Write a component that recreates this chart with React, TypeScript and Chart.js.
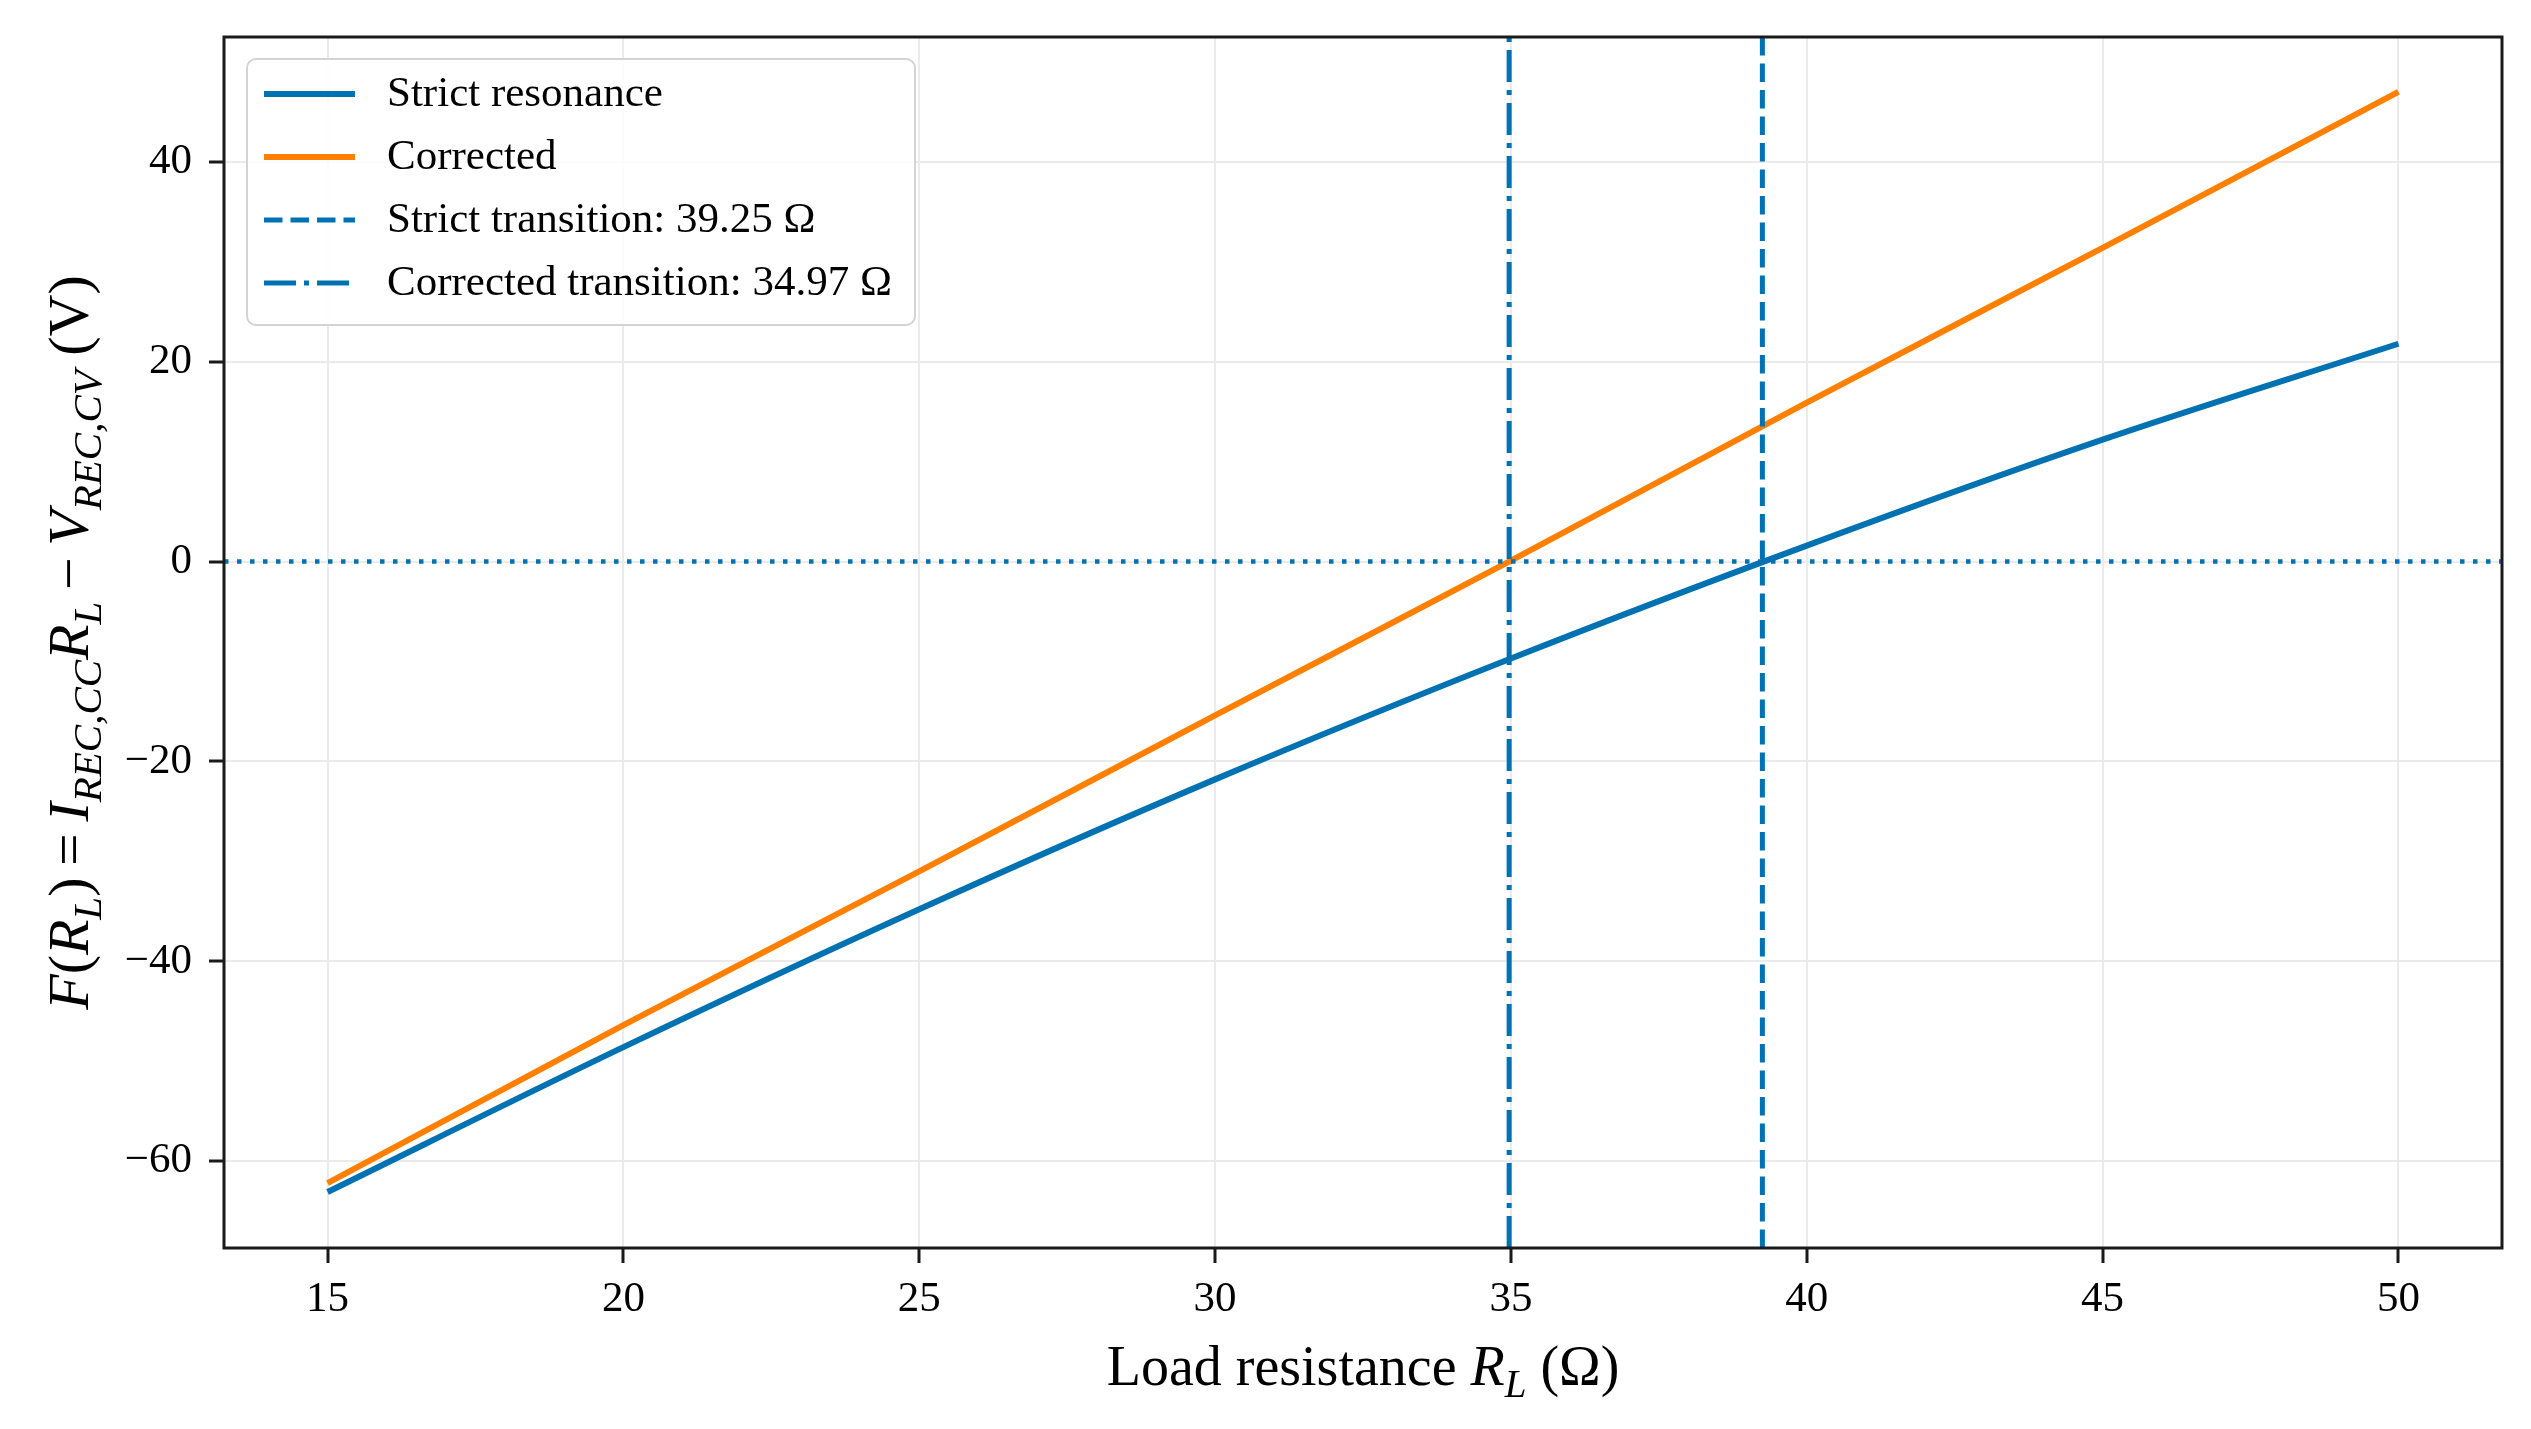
import React, { useEffect, useRef } from 'react'
import { Chart, registerables } from 'chart.js'

Chart.register(...registerables)

// values
const resistance = [15, 20, 25, 30, 35, 40, 45, 50]
const strictResonance = [-63.1, -48.6, -34.8, -21.8, -9.7, 1.6, 12.2, 21.8]
const correctedValues = [-62.2, -46.4, -31.0, -15.4, 0.1, 15.9, 31.4, 47.0]
const strictTransition = 39.25
const correctedTransition = 34.97
const xTicks = [15, 20, 25, 30, 35, 40, 45, 50]
const yTicks = [-60, -40, -20, 0, 20, 40]

const X_MIN = 13.25
const X_MAX = 51.75
const Y_MIN = -68.7
const Y_MAX = 52.5

const BLUE = '#0072B2'
const ORANGE = '#FF8000'
const SERIF = '"Liberation Serif", "Times New Roman", serif'

type Seg = { t: string; it?: boolean; sub?: boolean }

function drawRich(ctx: CanvasRenderingContext2D, segs: Seg[], size: number, cx: number, baseline: number) {
  const font = (s: Seg) => `${s.it ? 'italic ' : ''}${s.sub ? Math.round(size * 0.7) : size}px ${SERIF}`
  let total = 0
  const widths = segs.map((s) => {
    ctx.font = font(s)
    const w = ctx.measureText(s.t).width
    total += w
    return w
  })
  let x = cx - total / 2
  ctx.textAlign = 'left'
  ctx.textBaseline = 'alphabetic'
  ctx.fillStyle = '#000'
  segs.forEach((s, i) => {
    ctx.font = font(s)
    ctx.fillText(s.t, x, baseline + (s.sub ? size * 0.22 : 0))
    x += widths[i]
  })
}

const yTitle: Seg[] = [
  { t: 'F', it: true },
  { t: '(' },
  { t: 'R', it: true },
  { t: 'L', it: true, sub: true },
  { t: ')\u2009=\u2009' },
  { t: 'I', it: true },
  { t: 'REC,CC', it: true, sub: true },
  { t: 'R', it: true },
  { t: 'L', it: true, sub: true },
  { t: '\u2009\u2212\u2009' },
  { t: 'V', it: true },
  { t: 'REC,CV', it: true, sub: true },
  { t: ' (V)' },
]

const xTitle: Seg[] = [
  { t: 'Load resistance ' },
  { t: 'R', it: true },
  { t: 'L', it: true, sub: true },
  { t: ' (\u03A9)' },
]

const decorations = {
  id: 'decorations',
  afterDatasetsDraw(chart: any) {
    const { ctx, chartArea } = chart
    ctx.save()
    ctx.strokeStyle = '#1a1a1a'
    ctx.lineWidth = 3
    ctx.strokeRect(chartArea.left, chartArea.top, chartArea.right - chartArea.left, chartArea.bottom - chartArea.top)
    ctx.restore()
  },
  afterDraw(chart: any) {
    const { ctx, chartArea } = chart
    ctx.save()

    // legend box
    const bx = chartArea.left + 23
    const by = chartArea.top + 22
    const bw = 668
    const bh = 266
    ctx.beginPath()
    ctx.roundRect(bx, by, bw, bh, 9)
    ctx.fillStyle = 'rgba(255,255,255,0.85)'
    ctx.fill()
    ctx.strokeStyle = '#d4d4d4'
    ctx.lineWidth = 2
    ctx.stroke()

    const entries = chart.data.datasets.filter((d: any) => d.label)
    entries.forEach((d: any, i: number) => {
      const y = by + 35 + i * 63
      ctx.beginPath()
      ctx.setLineDash(d.borderDash || [])
      ctx.lineCap = 'butt'
      ctx.strokeStyle = d.borderColor
      ctx.lineWidth = d.borderWidth
      ctx.moveTo(bx + 17, y)
      ctx.lineTo(bx + 108, y)
      ctx.stroke()
      ctx.setLineDash([])
      ctx.fillStyle = '#000'
      ctx.font = `43px ${SERIF}`
      ctx.textAlign = 'left'
      ctx.textBaseline = 'middle'
      ctx.fillText(d.label, bx + 140, y + 1)
    })

    // axis titles
    drawRich(ctx, xTitle, 56, (chartArea.left + chartArea.right) / 2, 1385)
    ctx.translate(88, (chartArea.top + chartArea.bottom) / 2)
    ctx.rotate(-Math.PI / 2)
    drawRich(ctx, yTitle, 58, 0, 0)
    ctx.restore()
  },
}

function LoadChart() {
  const ref = useRef<HTMLCanvasElement>(null)

  useEffect(() => {
    const canvas = ref.current
    if (!canvas) {
      return
    }

    const chart = new Chart(canvas, {
      type: 'line',
      data: {
        datasets: [
          {
            label: 'Strict resonance',
            data: resistance.map((x, i) => ({ x, y: strictResonance[i] })),
            borderColor: BLUE,
            borderWidth: 6,
            pointRadius: 0,
            cubicInterpolationMode: 'monotone',
            order: 2,
          },
          {
            label: 'Corrected',
            data: resistance.map((x, i) => ({ x, y: correctedValues[i] })),
            borderColor: ORANGE,
            borderWidth: 6,
            pointRadius: 0,
            cubicInterpolationMode: 'monotone',
            order: 2,
          },
          {
            label: `Strict transition: ${strictTransition.toFixed(2)} \u03A9`,
            data: [
              { x: strictTransition, y: Y_MIN },
              { x: strictTransition, y: Y_MAX },
            ],
            borderColor: BLUE,
            borderWidth: 5,
            borderDash: [18.5, 8],
            pointRadius: 0,
            order: 1,
          },
          {
            label: `Corrected transition: ${correctedTransition.toFixed(2)} \u03A9`,
            data: [
              { x: correctedTransition, y: Y_MIN },
              { x: correctedTransition, y: Y_MAX },
            ],
            borderColor: BLUE,
            borderWidth: 5,
            borderDash: [32, 8, 5, 8],
            pointRadius: 0,
            order: 1,
          },
          {
            label: '',
            data: [
              { x: X_MIN, y: 0 },
              { x: X_MAX, y: 0 },
            ],
            borderColor: BLUE,
            borderWidth: 4.5,
            borderDash: [4.5, 8.5],
            pointRadius: 0,
            order: 1,
          },
        ],
      },
      options: {
        responsive: false,
        animation: false,
        devicePixelRatio: 1,
        layout: { padding: { top: 37, right: 29, left: 0, bottom: 0 } },
        plugins: {
          legend: { display: false },
          tooltip: { enabled: false },
        },
        scales: {
          x: {
            type: 'linear',
            min: X_MIN,
            max: X_MAX,
            afterFit: (scale: any) => {
              scale.height = 181
              scale.paddingLeft = 0
              scale.paddingRight = 0
            },
            afterBuildTicks: (scale: any) => {
              scale.ticks = xTicks.map((v) => ({ value: v }))
            },
            border: { display: false },
            grid: {
              color: '#ebebeb',
              lineWidth: 2,
              tickColor: '#1a1a1a',
              tickWidth: 3,
              tickLength: 15,
            },
            ticks: {
              color: '#000',
              padding: 11,
              maxRotation: 0,
              font: { family: SERIF, size: 43 },
              callback: (v: any) => String(v),
            },
          },
          y: {
            type: 'linear',
            min: Y_MIN,
            max: Y_MAX,
            afterFit: (scale: any) => {
              scale.width = 224
              scale.paddingTop = 0
              scale.paddingBottom = 0
            },
            afterBuildTicks: (scale: any) => {
              scale.ticks = yTicks.map((v) => ({ value: v }))
            },
            border: { display: false },
            grid: {
              color: '#ebebeb',
              lineWidth: 2,
              tickColor: '#1a1a1a',
              tickWidth: 3,
              tickLength: 15,
            },
            ticks: {
              color: '#000',
              padding: 17,
              font: { family: SERIF, size: 43 },
              callback: (v: any) => String(v).replace('-', '\u2212'),
            },
          },
        },
      },
      plugins: [decorations],
    })

    return () => {
      chart.destroy()
    }
  }, [])

  return (
    <div style={{ position: 'absolute', left: 0, top: 0, width: 2531, height: 1429, background: '#fff' }}>
      <canvas ref={ref} width={2531} height={1429} style={{ display: 'block' }}></canvas>
    </div>
  )
}

export default LoadChart
